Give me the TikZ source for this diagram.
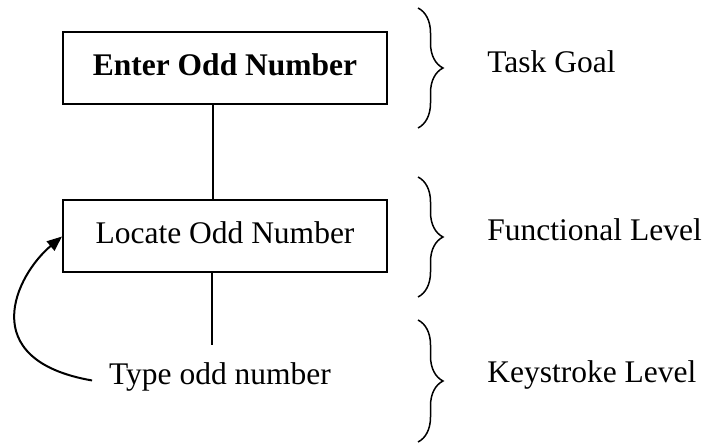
\documentclass[tikz,border=0pt]{standalone}
\usepackage{fontspec}
\setmainfont{Liberation Serif}
\usetikzlibrary{arrows.meta}
\usetikzlibrary{decorations.pathreplacing}
\tikzset{level/.style={draw, line width=1pt, minimum width=162pt, minimum height=36pt, inner sep=0, text depth=3.5pt}}
\tikzset{layer/.style={decorate, decoration={brace, amplitude=12.5pt}, line width=0.75pt}}
\tikzset{every edge/.style={draw, line width=0.75pt}}

\begin{document}
\begin{tikzpicture}[x=0.5pt, y=-0.5pt, font=\fontsize{15.75}{19}\selectfont]
    \useasboundingbox (0, 0) rectangle (707, 443);

    \node[level, font=\fontsize{15.75}{19}\selectfont\bfseries] at (225, 68.5) (goal) {Enter Odd Number};
    \node[level] at (225, 236.5) (locate) {Locate Odd Number};
    \node[anchor=base] at (220, 385) (type) {Type odd number};
    \coordinate (stem) at (212, 345);

    \draw ([xshift=-6pt]goal.south) edge ([xshift=-6pt]locate.north);
    \draw (locate.south -| stem) edge (stem);
    \draw[-{Triangle[length=7.5pt, width=6pt]}, line width=1pt] ([shift={(-5pt,-1.5pt)}]type.west) .. controls (-26, 360) and (16, 275) .. (locate.west);

    \draw[layer] (418, 8) -- (418, 128);
    \draw[layer] (418, 177) -- (418, 297);
    \draw[layer] (418, 320) -- (418, 442);

    \node[anchor=base west, inner sep=0] at (487, 73) (task) {Task Goal};
    \node[anchor=base west, inner sep=0] at (487, 241) (func) {Functional Level};
    \node[anchor=base west, inner sep=0] at (487, 382) (keys) {Keystroke Level};
  \end{tikzpicture}
\end{document}
